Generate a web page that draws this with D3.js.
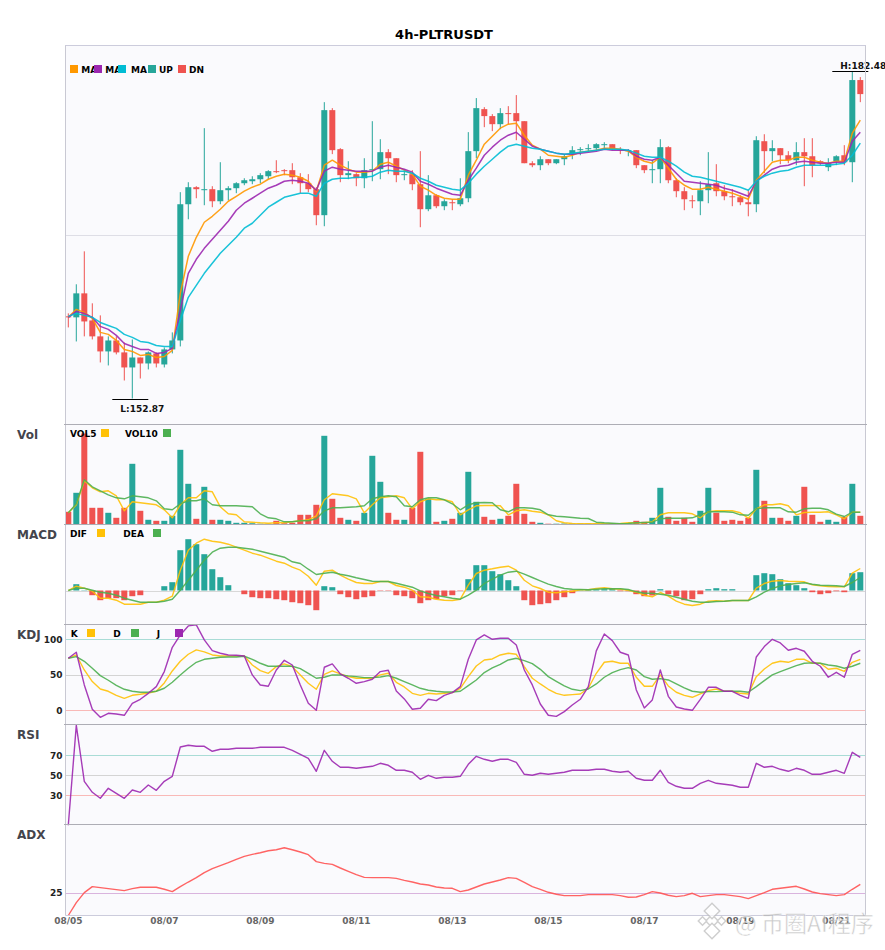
<!DOCTYPE html>
<html>
<head>
<meta charset="utf-8">
<script src="https://cdn.jsdelivr.net/npm/d3@7"></script>
<style>
  html, body { margin: 0; padding: 0; background: #fff; }
  text { font-family: "DejaVu Sans", sans-serif; font-weight: bold; }
</style>
</head>
<body>
<div id="canvas"></div>
<script>
const title = "4h-PLTRUSDT";
const tickLabels = ["08/05","08/07","08/09","08/11","08/13","08/15","08/17","08/19","08/21"];
const candlesPerTick = 12;

const open = [
  160.30,160.21,162.38,159.93,158.49,157.13,158.12,157.04,155.68,156.58,
  156.04,156.95,155.95,157.31,158.12,170.44,171.98,171.71,171.80,170.71,
  171.71,171.89,172.34,172.52,172.70,172.97,173.43,173.52,173.52,172.88,
  172.34,171.80,169.45,178.95,175.42,173.07,173.16,172.79,173.52,173.61,
  175.15,174.60,173.07,173.16,172.25,169.99,171.25,170.26,170.62,170.44,
  170.98,175.24,179.04,178.41,177.68,178.68,178.68,177.95,174.15,173.97,
  174.51,174.15,174.51,174.97,175.33,175.42,175.51,175.78,175.87,175.42,
  175.24,175.33,173.97,173.52,173.61,175.60,172.61,171.62,170.80,170.71,
  171.71,172.34,171.62,171.16,171.07,170.62,170.44,176.14,175.24,175.51,
  174.87,174.42,175.15,174.78,174.33,173.79,174.33,174.87,174.24,181.67];
const close = [
  160.21,162.38,159.84,158.49,157.13,158.12,157.04,155.68,156.58,156.04,
  157.04,156.04,157.31,158.12,170.44,171.98,171.80,171.80,170.71,171.71,
  171.89,172.34,172.61,172.70,173.07,173.43,173.34,173.43,172.88,172.34,
  171.80,169.45,178.95,175.33,173.07,173.25,172.79,173.52,173.61,175.15,
  174.60,173.07,173.16,172.25,169.99,171.25,170.26,170.71,170.53,170.98,
  175.24,179.13,178.41,177.68,178.68,178.59,177.95,174.15,173.97,174.51,
  174.15,174.51,174.78,175.33,175.42,175.51,175.87,175.87,175.42,175.33,
  175.33,173.97,173.52,173.61,175.60,172.61,171.62,170.89,170.71,171.71,
  172.25,171.62,171.16,171.07,170.62,170.44,176.23,175.24,175.51,174.87,
  174.42,175.15,174.78,173.97,174.15,174.15,174.78,174.24,181.67,180.40];
const high = [
  160.57,163.20,166.18,161.48,160.39,158.49,158.49,157.94,158.21,156.58,
  157.13,157.04,157.49,158.85,171.53,172.43,172.07,177.32,172.07,174.24,
  172.07,172.43,172.79,172.97,173.25,173.52,174.42,173.61,174.15,173.25,
  173.16,171.98,179.67,179.13,175.51,174.33,173.25,174.60,177.95,176.32,
  175.42,174.60,173.52,173.52,175.24,173.07,171.34,170.89,170.89,172.79,
  176.96,180.04,179.22,178.59,179.13,179.31,180.31,177.95,174.33,174.78,
  174.51,174.51,174.97,175.69,175.60,175.87,175.96,176.05,175.87,175.60,
  175.42,175.33,173.97,174.42,176.32,175.69,172.79,171.98,171.25,172.52,
  175.15,174.06,172.16,171.80,171.25,171.71,176.59,176.77,176.23,175.51,
  175.24,176.05,176.41,176.41,174.42,174.60,174.87,175.78,182.48,181.94];
const low = [
  159.30,158.03,158.49,158.21,156.13,155.86,156.86,154.50,152.87,154.68,
  155.50,155.68,155.68,156.95,157.58,169.08,170.98,170.35,170.17,170.44,
  170.80,171.44,172.16,172.25,172.34,172.70,173.25,173.07,172.25,171.44,
  171.53,168.54,168.45,174.97,172.43,172.70,172.07,171.89,172.52,172.70,
  173.16,172.43,172.61,171.71,168.36,169.81,170.08,169.90,169.90,170.26,
  170.62,174.60,177.41,177.05,177.23,177.68,176.23,174.15,173.79,173.52,
  173.97,174.06,173.97,174.51,174.87,175.24,175.24,175.51,175.33,174.97,
  174.78,173.70,173.25,172.34,172.34,172.34,171.07,169.90,170.08,169.45,
  170.53,171.16,170.80,170.26,170.35,169.35,169.72,173.25,174.33,174.06,
  174.15,173.97,172.07,172.88,173.97,173.43,173.97,173.97,172.43,179.67];

const ma5 = [
  160.21,160.93,160.66,160.12,158.85,158.67,158.12,157.31,157.13,156.77,
  156.86,156.58,156.67,157.22,162.38,165.73,167.45,168.81,169.35,169.99,
  170.71,171.16,171.62,171.98,172.25,172.70,172.97,173.16,173.07,172.88,
  172.52,171.62,173.97,174.42,173.97,173.61,173.34,173.34,173.43,174.06,
  174.24,173.88,173.52,173.16,172.07,171.71,171.25,170.98,170.89,170.89,
  173.07,174.42,175.87,176.59,177.32,177.68,177.77,176.68,175.78,175.42,
  174.87,174.78,174.69,174.87,175.15,175.24,175.33,175.51,175.51,175.42,
  175.24,174.69,174.33,174.15,174.69,173.70,172.70,172.16,171.80,171.80,
  171.98,171.80,171.62,171.44,171.16,170.89,172.61,173.43,174.24,174.42,
  174.42,174.69,174.69,174.42,174.24,174.15,174.33,174.33,176.87,178.04];
const ma10 = [
  160.21,160.75,160.57,160.21,159.39,159.12,158.58,157.85,157.58,157.31,
  157.31,156.95,157.04,157.40,160.84,164.19,165.46,166.45,167.27,168.08,
  168.90,169.90,170.53,170.98,171.44,171.89,172.16,172.52,172.61,172.52,
  172.34,171.71,173.43,173.79,173.61,173.52,173.43,173.43,173.43,173.79,
  173.97,173.79,173.61,173.34,172.52,172.25,171.89,171.62,171.34,171.25,
  172.61,173.70,174.87,175.60,176.23,176.68,176.95,176.32,175.69,175.42,
  175.24,175.06,174.97,174.97,175.06,175.15,175.24,175.42,175.33,175.33,
  175.33,174.78,174.51,174.42,174.69,173.97,173.25,172.52,172.43,172.34,
  172.25,172.16,171.89,171.71,171.44,171.16,172.52,173.07,173.61,173.88,
  173.97,174.24,174.33,174.24,174.15,174.15,174.24,174.24,176.14,176.95];
const ma20 = [
  160.30,160.57,160.39,160.21,159.75,159.48,159.21,158.67,158.40,158.03,
  157.94,157.67,157.58,157.58,159.93,162.02,163.10,164.19,165.10,166.00,
  166.73,167.45,168.27,168.72,169.45,170.17,170.62,171.07,171.25,171.44,
  171.44,171.16,172.34,172.70,172.79,172.79,172.88,172.88,172.97,173.34,
  173.52,173.43,173.43,173.25,172.79,172.52,172.16,171.98,171.80,171.71,
  172.34,173.16,173.88,174.51,175.15,175.69,175.87,175.69,175.51,175.42,
  175.24,175.06,174.97,175.06,175.15,175.24,175.33,175.42,175.42,175.42,
  175.33,175.06,174.78,174.69,174.69,174.33,173.88,173.34,172.97,172.88,
  172.70,172.52,172.34,172.16,171.98,171.71,172.52,172.97,173.25,173.43,
  173.52,173.79,173.97,173.97,173.97,173.97,174.06,174.15,174.87,175.96];

const volume = [
  12.7,31.7,91,16.7,16.7,11.7,6.7,16.7,60.7,13.7,
  4.7,3.7,3.7,8.7,74.7,40.7,5.7,37.7,4.7,4.7,
  3.7,1.7,1.7,1.3,0.8,0.8,3.7,1.3,1.7,9.7,
  9.7,19.7,88.7,25.7,6.7,4.7,3.7,11.7,68.7,42.7,
  11.7,4.7,4.7,16.7,72.7,25.7,2.7,3.7,5.7,11.7,
  52.7,22.7,7.7,4.7,5.7,8.7,40.7,10.7,2.7,1.7,
  0.8,0.8,1,1,1,1,1,1,1,0.7,
  0.7,3.7,2.7,6.7,36.7,7.7,3.7,6.7,2.7,13.7,
  36.7,11.7,3.7,4.7,3.7,6.7,54.7,23.7,6.7,6.7,
  3.7,8.7,37.7,9.7,2.7,4.7,2.7,7.7,40.7,8.7];
const vol5 = [
  11.7,19.7,43.7,36.7,32.7,33.7,28.7,13.7,22.7,21.7,
  20.7,19.7,14.7,6.7,19.7,26.7,26.7,33.7,32.7,17.7,
  10.7,9.7,2.7,2.3,1.7,1.3,1.7,1.7,2.7,3.7,
  4.7,8.7,24.7,30.7,29.7,28.7,25.7,11.7,19.7,26.7,
  27.7,28.7,26.7,15.7,22.7,25.7,24.7,24.7,22.7,9.7,
  14.7,18.7,19,19,18.7,9.7,13.7,14.7,13.3,12.3,
  9.7,3.7,1.7,1,0.8,0.8,0.7,0.7,0.7,1,
  1.7,1.7,1.7,2.7,9.7,11.7,11.7,11.7,10.7,6.7,
  12.7,13.7,13.7,13.7,11.7,6.3,15.7,19.7,19.7,20.7,
  18.7,9.7,12,12.3,12.3,12.7,9.7,5.7,12.3,12.3];
const vol10 = [
  11.7,20.7,44.7,37.7,33.7,29.7,26.7,25.7,28.7,27.7,
  26.7,23.7,15.7,14.7,20.7,23.7,23.7,25.7,19.7,18.7,
  18.7,18.7,18.3,17.7,10.7,6.7,5.7,2.7,2.7,3.7,
  3.7,5.7,13.7,16.7,16.7,17.3,17.7,18.7,25.7,27.7,
  28.7,27.7,18.7,17.7,24.7,26.7,26.7,24.7,20.7,14.7,
  19.7,21.7,22,21.7,14.7,12.7,16.7,16.7,16.3,14.7,
  9.7,8.3,7.7,7,6.3,6,2.3,1.7,1.3,0.7,
  1,1.7,2,2.3,5.7,6.3,6.3,6.3,6.7,9.7,
  12.7,12.7,12.7,12.3,9.7,9.3,15.7,16.7,16.7,16.7,
  12.7,12.3,15.7,16.3,16.3,14.7,10.3,8,12.3,12.3];

const macdHist = [
  0,6.3,0.3,-4.7,-9.7,-7.7,-7.7,-9.7,-5.7,-4.7,
  0,0,4.3,8.3,40.3,51.3,46.3,36.3,21.3,13.3,
  5.3,0,-3.7,-6.7,-7.7,-7.7,-8.7,-9.7,-11.7,-12.7,
  -14.7,-19.7,4.3,3.3,-3.7,-6.7,-8.7,-6.7,-5.7,-0.4,
  -0.4,-4.7,-5.7,-7.7,-12.7,-9.7,-8.7,-5.7,-4.7,-0.4,
  11.3,25.3,25.3,19.3,16.3,10.3,4.3,-9.7,-14.7,-13.7,
  -12.7,-9.7,-6.7,-2.7,0.3,0.5,1,1.3,1.5,-0.7,
  -0.7,-3.7,-5.7,-5,1.3,-3.7,-5.7,-9.7,-8.7,-3.7,
  1.3,2.3,1.3,1.3,0,0,15.3,17.3,16.3,11.3,
  7.3,5.3,2.3,-1.7,-3.7,-2.7,-0.7,-1.7,17.3,18.3];
const dif = [
  0,4.3,2.3,-0.7,-7.7,-7.7,-9.7,-13.7,-13.7,-13.7,
  -11.7,-11.7,-9.7,-5.7,20.3,40.3,47.3,51.3,49.3,48.3,
  46.3,43.3,40.3,37.3,35.3,32.3,29.3,27.3,23.3,20.3,
  14.3,5.3,19.3,20.3,15.3,11.3,8,7,7,9,
  9,5,3.3,0.3,-6.3,-6.7,-8.7,-9.7,-10,-8.7,
  5.3,17,20.3,21.7,23.3,24.3,20.3,10.3,4.7,2,
  -1.7,-2.3,-1.3,-0.7,0.7,0.7,2,2.7,1.7,1.3,
  0.3,-1.7,-4.7,-6.3,-2,-5.7,-10.7,-13.7,-15,-13.7,
  -10.7,-10.3,-10.7,-10,-10,-10,2.3,7,9.3,10,
  9.3,9,8.7,5.7,4.7,4,3.7,3.7,17.3,22];
const dea = [
  0,2.3,2.3,0.3,-1.7,-2.7,-4.7,-7.7,-9.7,-11.7,
  -11.7,-11.7,-10.7,-8.7,0.3,10.3,20.3,30.3,38.3,42.3,
  43.3,43.3,42.3,41.3,39.3,37.3,35.3,33.3,28.7,27,
  21.3,16,17.3,18.3,16.3,14.7,12.7,11,9.3,9,
  9,7.3,5.3,3.3,-0.3,-3,-5,-6.3,-7.7,-8.7,
  -4.7,0.3,7,11.3,15.3,18.3,19.3,16.3,13,9.7,
  6.3,4,2,1.3,1,0.7,1.3,1.7,1.7,1.7,
  1,-1.3,-2.7,-2.7,-3.7,-4.7,-6.7,-8.7,-10.7,-11.7,
  -11.7,-11,-10.7,-10,-10,-10,-6.3,-1.7,2,4.7,
  6,7,7.7,6.3,5.3,5,4.7,4,8,13];

const kdjK = [
  73.2,77.9,56.8,40.4,30,26.8,21.1,16.9,21.1,22.5,
  24.4,26.8,38.5,55.4,69,78.9,85,82.2,77.9,76.5,
  76.5,76.5,76.5,63.8,55.9,52.1,61.5,65.3,61.5,49.8,
  38,29.6,50.7,55.4,51.2,47.4,45.1,45.1,45.1,49.8,
  52.1,39.4,32.9,23.9,21.1,23.9,23,23.9,24.9,31,
  47.4,62.4,70.9,72.3,77.9,80.3,78.9,61.5,45.1,37.1,
  29.6,23.9,21.1,22.1,23,31,52.1,67.6,69,66.2,
  66.2,46.5,33.8,33.8,49.8,34.3,25.4,21.1,18.3,23,
  27.7,30,26.8,26.8,23.9,23,47.4,58.2,66.2,69,
  67.6,71.8,71.8,66.2,66.2,57.7,59.2,54.9,67.6,71.8];
const kdjD = [
  73.2,75.6,69,59.2,48.8,42.3,35.2,29.6,26.8,25.4,
  25.4,26.8,31,39.4,49.8,59.2,67.6,71.8,73.2,74.6,
  75.1,75.1,76.1,71.8,66.2,62,62,62,62,58.7,
  52.1,45.1,46.5,49.8,49.8,48.4,47.4,46,46,46.9,
  48.8,45.1,40.4,35.7,31,28.2,26.8,25.8,25.8,26.8,
  34.7,42.7,53.1,59.6,64.8,70.9,73.2,70,65.7,57.7,
  47.4,40.8,34.3,29.6,27.7,30,37.1,46.5,53.1,57.3,
  60.1,56.8,47.4,43.7,44.6,42.7,37.1,31.5,26.8,25.4,
  26.3,26.3,26.8,26.8,26.8,25.4,33.3,41.8,49.8,54.5,
  58.7,62.9,66.2,66.7,66.2,63.8,62.4,59.2,62,66.2];
const kdjJ = [
  73.2,81.7,35.7,1.4,-9.9,-4.2,-5.2,-7,9.9,15.5,
  23.9,33.3,54.5,88.7,106.1,118.8,120.2,99.1,84,80.3,
  77.9,77.5,76.5,49.8,35.7,33.8,56.8,70.4,63.8,35.7,
  9.9,0,60.6,65.3,51.2,45.1,38,40.4,43.7,54.5,
  56.3,27.2,16,1.4,2.8,15.5,13.6,21.1,24.9,33.3,
  71.8,99.1,106.1,100,101.4,101.4,92,56.8,35.7,8.9,
  -7,-8.5,-1.9,7.5,15.5,33.3,83.6,107.5,98.1,81.7,
  77.9,28.6,3.3,14.6,56.8,19.7,4.7,1.9,0,15.5,
  32.4,32.4,26.8,26.8,21.1,16.9,75.1,89.7,100,94.8,
  84.5,87.3,83.1,69,62,46.5,53.5,46.5,78.9,84.5];

const rsi = [
  0,100,44,33,27,37,32,27,35.3,33,
  40.3,35,44,49,78.3,80,79,79,74,76,
  76,77,77,77,78,78,78,78,75,71,
  67,54,75,64,58,58,57,58,59,62,
  60,55,55,53,46,50,47,48,48,49,
  61,69,66,64,66,66,63,51,50,52,
  51,52,53,55,55,55,56,56,54,53,
  54,47,45,45,55,43,39,37,37,42,
  45,42,41,40,38,38,62,58,59,56,
  54,57,55,51,51,53,55,52,73,68];
const adx = [
  0,14.1,25.1,31.7,30.6,29.5,28.4,27.3,29.5,31,
  31,31,28.8,26.2,31.7,36.8,41.6,47.1,51.5,54.8,
  58.1,61.7,65,67.2,69,71.2,72.3,74.5,72.3,69.8,
  66.8,59.2,57.3,56.2,52.2,48.5,44.9,41.9,41.6,41.6,
  41.6,40.8,38.6,36.8,34.6,33.5,31.3,30.2,29.9,26.2,
  28,31.3,34.6,36.8,39,41.6,40.8,36.4,31.7,28.8,
  25.5,23.3,21.8,21.8,21.8,22.9,22.9,22.9,22.9,21.8,
  20,20.3,22.9,26.2,24.7,22.2,20.7,21.8,24.4,20.7,
  21.8,22.9,22.9,21.8,20.7,18.5,21.8,25.1,28.8,29.9,
  31,32.1,29.1,25.8,24,22.9,21.8,22.9,28.8,34.2];

const kdjTicks = [0, 50, 100];
const rsiTicks = [30, 50, 70];
const adxTicks = [25];

const UP = "#26a69a", DN = "#ef5350";
const width = 885, height = 950;
const left = 65.5, right = 865.5;

const svg = d3.select("#canvas").append("svg")
  .attr("width", width)
  .attr("height", height)
  .style("display", "block");

const idx = d3.range(open.length);
const x = d3.scaleBand().domain(idx).range([64.3, 864.3]).paddingInner(0.25).paddingOuter(0.125);
const cx = i => x(i) + x.bandwidth() / 2;

// panes, all share the x scale
const yPrice = d3.scaleLinear().domain([150.52, 184.84]).range([424.5, 45]);
const yVol = d3.scaleLinear().domain([0, 100]).range([524.5, 424.5]);
const yMacd = d3.scaleLinear().domain([-34, 66]).range([624.5, 524.5]);
const yKdj = d3.scaleLinear().domain([-20, 120.8]).range([724.5, 624.5]);
const yRsi = d3.scaleLinear().domain([0, 100]).range([825.3, 725.3]);
const yAdx = d3.scaleLinear().domain([0, 100]).range([915.5, 824.5]);

svg.append("rect").attr("x", left).attr("y", 45)
  .attr("width", right - left).attr("height", 870.5).attr("fill", "#fafafd");

svg.append("text").attr("x", 444).attr("y", 39)
  .attr("text-anchor", "middle").attr("font-size", 13).attr("fill", "#000").text(title);

// horizontal guide lines
function guide(y, value, color) {
  svg.append("line").attr("x1", left).attr("x2", right)
    .attr("y1", Math.round(y(value)) + 0.5).attr("y2", Math.round(y(value)) + 0.5)
    .attr("stroke", color).attr("stroke-width", 1);
}
guide(yPrice, 167.68, "#dedee6");
guide(yMacd, 0, "#d8d8d8");
guide(yKdj, 100, "#a9dcd6"); guide(yKdj, 50, "#d4d4d4"); guide(yKdj, 0, "#f9b9b7");
guide(yRsi, 70, "#a9dcd6"); guide(yRsi, 50, "#d4d4d4"); guide(yRsi, 30, "#f9b9b7");
guide(yAdx, 25, "#d9b4de");

// candles
const candle = svg.append("g").selectAll("g").data(idx).enter().append("g");
const candleColor = i => close[i] >= open[i] ? UP : DN;
candle.append("line")
  .attr("x1", cx).attr("x2", cx)
  .attr("y1", i => yPrice(high[i])).attr("y2", i => yPrice(low[i]))
  .attr("stroke", candleColor).attr("stroke-width", 1);
candle.append("rect")
  .attr("x", i => x(i)).attr("width", x.bandwidth())
  .attr("y", i => yPrice(Math.max(open[i], close[i])))
  .attr("height", i => Math.max(1, Math.abs(yPrice(open[i]) - yPrice(close[i]))))
  .attr("fill", candleColor);

function drawLine(values, y, color, w) {
  const line = d3.line().x((d, i) => cx(i)).y(d => y(d));
  svg.append("path").datum(values).attr("d", line)
    .attr("fill", "none").attr("stroke", color)
    .attr("stroke-width", w || 1.4).attr("stroke-opacity", 0.9)
    .attr("stroke-linejoin", "round");
}
drawLine(ma5, yPrice, "#ff9800", 1.5);
drawLine(ma10, yPrice, "#9c27b0", 1.5);
drawLine(ma20, yPrice, "#00bcd4", 1.5);

// high / low markers
const iHigh = high.indexOf(d3.max(high));
const iLow = low.indexOf(d3.min(low));
[[iHigh, high[iHigh], "H:", -3], [iLow, low[iLow], "L:", 12]].forEach(m => {
  const px = cx(m[0]), py = Math.round(yPrice(m[1])) + 0.5;
  svg.append("line").attr("x1", px - 20).attr("x2", px + 16).attr("y1", py).attr("y2", py)
    .attr("stroke", "#000").attr("stroke-width", 1);
  svg.append("text").attr("x", px - 12).attr("y", py + m[3])
    .attr("font-size", 9).attr("fill", "#111").text(m[2] + m[1].toFixed(2));
});

// volume
svg.append("g").selectAll("rect").data(idx).enter().append("rect")
  .attr("x", i => x(i)).attr("width", x.bandwidth())
  .attr("y", i => yVol(volume[i]))
  .attr("height", i => yVol(0) - yVol(volume[i]))
  .attr("fill", candleColor);
drawLine(vol5, yVol, "#ffc107");
drawLine(vol10, yVol, "#4caf50");

// macd
svg.append("g").selectAll("rect").data(idx).enter().append("rect")
  .attr("x", i => x(i)).attr("width", x.bandwidth())
  .attr("y", i => yMacd(Math.max(0, macdHist[i])))
  .attr("height", i => Math.abs(yMacd(macdHist[i]) - yMacd(0)))
  .attr("fill", i => macdHist[i] >= 0 ? UP : DN);
drawLine(dif, yMacd, "#ffc107");
drawLine(dea, yMacd, "#4caf50");

// kdj, rsi, adx
drawLine(kdjK, yKdj, "#ffc107");
drawLine(kdjD, yKdj, "#4caf50");
drawLine(kdjJ, yKdj, "#9c27b0");
drawLine(rsi, yRsi, "#9c27b0");
drawLine(adx, yAdx, "#ff5252");

// frame and pane separators
const frame = svg.append("g");
frame.append("line").attr("x1", left).attr("x2", left).attr("y1", 45).attr("y2", 915.5).attr("stroke", "#c9c9d3");
frame.append("line").attr("x1", right).attr("x2", right).attr("y1", 45).attr("y2", 915.5).attr("stroke", "#c9c9d3");
frame.append("line").attr("x1", left).attr("x2", right).attr("y1", 45.5).attr("y2", 45.5).attr("stroke", "#ccccdc");
frame.append("line").attr("x1", left).attr("x2", right).attr("y1", 915.5).attr("y2", 915.5).attr("stroke", "#ccccdc");
[424.5, 524.5, 624.5, 724.5, 824.5].forEach(py => {
  frame.append("line").attr("x1", 64).attr("x2", 867).attr("y1", py).attr("y2", py).attr("stroke", "#adadb5");
});

// axes
function leftAxis(y, ticks) {
  const g = svg.append("g").attr("transform", `translate(${left},0)`)
    .call(d3.axisLeft(y).tickValues(ticks).tickSize(0).tickPadding(3));
  g.select(".domain").remove();
  g.selectAll("text").attr("font-size", 9).attr("fill", "#222").attr("font-family", null);
}
leftAxis(yKdj, kdjTicks);
leftAxis(yRsi, rsiTicks);
leftAxis(yAdx, adxTicks);

const xAxis = svg.append("g").attr("transform", "translate(0,916)")
  .call(d3.axisBottom(x)
    .tickValues(tickLabels.map((d, i) => i * candlesPerTick))
    .tickFormat(i => tickLabels[i / candlesPerTick])
    .tickSize(0).tickPadding(2));
xAxis.select(".domain").remove();
xAxis.selectAll("text").attr("font-size", 9).attr("fill", "#666").attr("font-family", null);

// pane titles
[["Vol", 424.5], ["MACD", 524.5], ["KDJ", 624.5], ["RSI", 724.5], ["ADX", 824.5]].forEach(p => {
  svg.append("text").attr("x", 17).attr("y", p[1] + 14.5)
    .attr("font-size", 12).attr("fill", "#44444c").text(p[0]);
});

// legends: later swatches sit on top of earlier text, like the original
function legend(items, py) {
  items.forEach(it => {
    svg.append("rect").attr("x", it.sx).attr("y", py).attr("width", 8).attr("height", 8).attr("fill", it.color);
    svg.append("text").attr("x", it.tx).attr("y", py + 7.7).attr("font-size", 9).attr("fill", "#000").text(it.label);
  });
}
legend([
  { label: "MA", color: "#ff9800", sx: 70, tx: 81.3 },
  { label: "MA", color: "#9c27b0", sx: 94, tx: 105.3 },
  { label: "MA", color: "#00bcd4", sx: 118, tx: 131 },
  { label: "UP", color: UP, sx: 148, tx: 159 },
  { label: "DN", color: DN, sx: 178, tx: 189 }
], 65);
legend([
  { label: "VOL5", color: "#ffc107", sx: 101, tx: 70 },
  { label: "VOL10", color: "#4caf50", sx: 163, tx: 125 }
], 429);
legend([
  { label: "DIF", color: "#ffc107", sx: 97, tx: 70 },
  { label: "DEA", color: "#4caf50", sx: 153, tx: 123.3 }
], 529);
legend([
  { label: "K", color: "#ffc107", sx: 87, tx: 70.7 },
  { label: "D", color: "#4caf50", sx: 131, tx: 113.3 },
  { label: "J", color: "#9c27b0", sx: 175, tx: 156.7 }
], 629);

// watermark
const mark = svg.append("g").attr("opacity", 0.7);
[[712, 921, 4.5], [702.5, 921, 3], [721.5, 921, 3], [712, 911, 5.5], [712, 931, 5.5]].forEach(c => {
  mark.append("rect").attr("x", -c[2]).attr("y", -c[2]).attr("width", 2 * c[2]).attr("height", 2 * c[2])
    .attr("transform", `translate(${c[0]},${c[1]}) rotate(45)`)
    .attr("fill", "#fff").attr("stroke", "#bbb").attr("stroke-width", 1.4);
});
[["@", 735], ["币圈AI程序", 761]].forEach(t => {
  mark.append("text").attr("x", t[1]).attr("y", 932)
    .attr("font-size", 23).attr("fill", "#b4b4b4")
    .attr("stroke", "#fff").attr("stroke-width", 0.5)
    .style("font-family", '"Noto Sans CJK SC", sans-serif').style("font-weight", "normal")
    .text(t[0]);
});
</script>
</body>
</html>
